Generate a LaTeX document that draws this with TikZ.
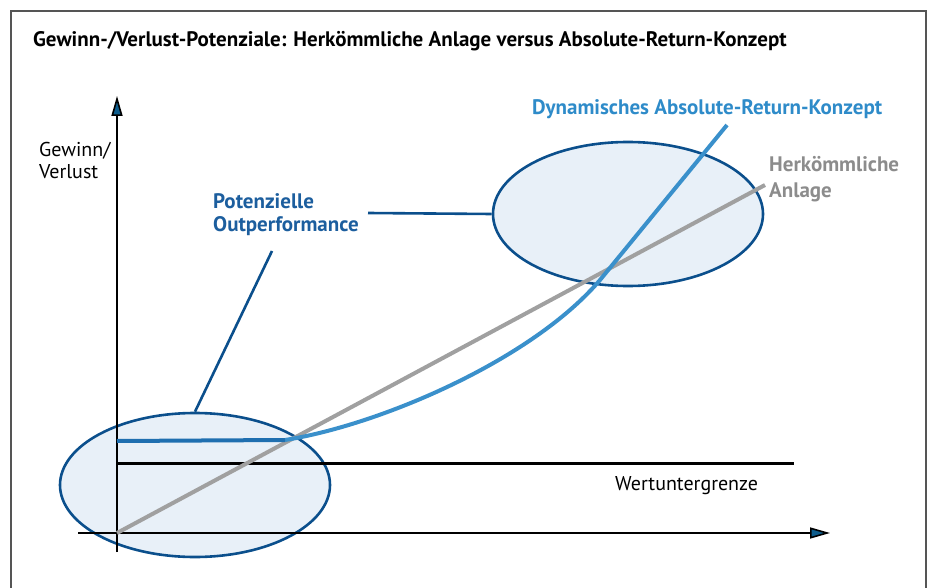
\documentclass[tikz,border=0pt]{standalone}
\usepackage{fontspec}
\setmainfont{PT Sans}
\usetikzlibrary{shapes.geometric,arrows.meta}
\definecolor{framegray}{HTML}{555555}
\definecolor{darkblue}{HTML}{0B4F8C}
\definecolor{ellfill}{HTML}{E8F0F8}
\definecolor{labblue}{HTML}{1C5E9E}
\definecolor{dynblue}{HTML}{2E8BC9}
\definecolor{curveblue}{HTML}{3A90CB}
\definecolor{flatblue}{HTML}{1F6FB0}
\definecolor{linegray}{HTML}{A0A0A0}
\definecolor{textgray}{HTML}{8C8C8C}
\definecolor{tipblue}{HTML}{0D5C8C}
\tikzset{
  ell/.style={ellipse, draw=darkblue, fill=ellfill, line width=2.6pt, minimum width=270pt, minimum height=144pt, inner sep=0pt},
  lbl/.style={inner sep=0pt, anchor=base west, font=\fontsize{20}{24}\selectfont},
  lblb/.style={lbl, font=\fontsize{21}{24}\selectfont\bfseries},
  axis/.style={line width=1.6pt, -{Triangle[length=20pt,width=11pt,fill=tipblue]}},
  leader/.style={draw=darkblue, line width=2.6pt},
}
\begin{document}
\begin{tikzpicture}[x=1pt,y=-1pt]
\useasboundingbox (0,0) rectangle (934,588);
% frame
\draw[framegray, line width=2.5pt] (11,600) -- (11,11) -- (926,11) -- (926,600);
% title
\node[lblb] (title) at (33,47) {Gewinn-/Verlust-Potenziale: Herkömmliche Anlage versus Absolute-Return-Konzept};
% ellipses
\node[ell] (elo) at (195,485) {};
\node[ell] (eup) at (628,214) {};
% axes
\coordinate (yb) at (117,552);
\coordinate (yt) at (117,96);
\coordinate (xl) at (78,533);
\coordinate (xr) at (830,533);
\draw[axis] (yb) -- (yt);
\draw[axis] (xl) -- (xr);
% floor
\coordinate (fl) at (117,463);
\coordinate (fr) at (794,463);
\draw[line width=3pt] (fl) -- (fr);
\node[lbl] (wert) at (615,490) {Wertuntergrenze};
% conventional
\coordinate (g0) at (117,533);
\coordinate (g1) at (765,185);
\draw[linegray, line width=4pt] (g0) -- (g1);
% absolute return
\coordinate (b0) at (117,441);
\coordinate (b1) at (285,440);
\coordinate (b2) at (600,280);
\coordinate (b3) at (727,125);
\draw[curveblue, line width=4pt] (b1) .. controls (380,425) and (532,360) .. (b2) -- (b3);
\draw[flatblue, line width=4pt] (b0) -- (b1);
% leaders
\coordinate (ld1) at (368,213);
\coordinate (ld2) at (272,251);
\draw[leader] (ld1) -- (eup.west);
\draw[leader] (ld2) -- (elo.north);
% labels
\node[lbl] (gv1) at (39,157) {Gewinn/};
\node[lbl] (gv2) at (39,179) {Verlust};
\node[lblb, text=labblue] (po1) at (213,208) {Potenzielle};
\node[lblb, text=labblue] (po2) at (213,232) {Outperformance};
\node[lblb, text=dynblue] (dyn) at (532,115) {Dynamisches Absolute-Return-Konzept};
\node[lblb, text=textgray] (he1) at (769,172) {Herkömmliche};
\node[lblb, text=textgray] (he2) at (769,197) {Anlage};
\end{tikzpicture}
\end{document}
